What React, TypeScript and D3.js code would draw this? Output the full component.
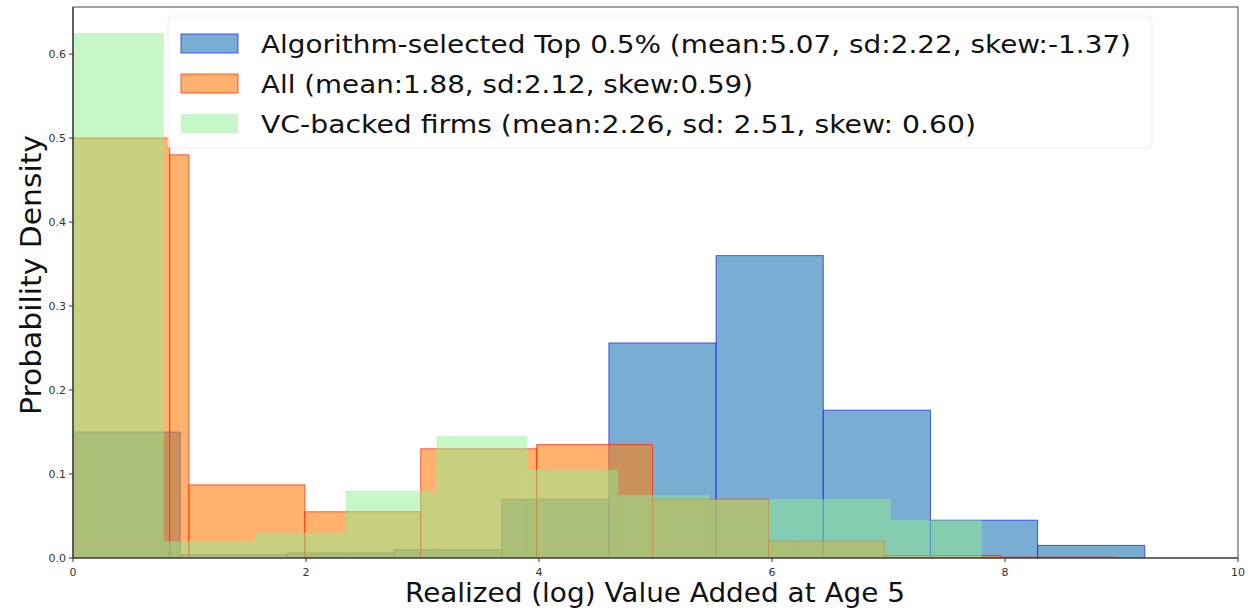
import React from 'react'
import * as d3 from 'd3'

// histogram bins (edges on the log value axis, density per bin)
const topEdges = [0, 0.92, 1.84, 2.76, 3.68, 4.6, 5.52, 6.44, 7.36, 8.28, 9.2]
const topDensity = [0.15, 0.004, 0.006, 0.01, 0.07, 0.256, 0.36, 0.176, 0.045, 0.015]

const allEdges = [0, 0.83, 0.995, 1.99, 2.985, 3.98, 4.975, 5.97, 6.965, 7.96, 8.955]
const allDensity = [0.5, 0.48, 0.087, 0.055, 0.13, 0.135, 0.07, 0.02, 0.003, 0.001]

const vcEdges = [0, 0.78, 1.56, 2.34, 3.12, 3.9, 4.68, 5.46, 6.24, 7.02, 7.8]
const vcDensity = [0.625, 0.02, 0.03, 0.08, 0.145, 0.105, 0.075, 0.07, 0.07, 0.045]

const xTicks = [0, 2, 4, 6, 8, 10]
const yTicks = [0, 0.1, 0.2, 0.3, 0.4, 0.5, 0.6]

const legendLabels = [
    'Algorithm-selected Top 0.5% (mean:5.07, sd:2.22, skew:-1.37)',
    'All (mean:1.88, sd:2.12, skew:0.59)',
    'VC-backed firms (mean:2.26, sd: 2.51, skew: 0.60)',
]
// the text in the picture is a bit wider than DejaVu renders it, so stretch to fit
const legendWidths = [870, 492, 715]

type Series = { edges: number[], density: number[], fill: string, stroke: string, alpha: number }

const series: Series[] = [
    { edges: topEdges, density: topDensity, fill: '#1f77b4', stroke: '#1a2cf0', alpha: 0.6 },
    { edges: allEdges, density: allDensity, fill: '#ff7f0e', stroke: '#ff2a00', alpha: 0.6 },
    { edges: vcEdges, density: vcDensity, fill: '#90ee90', stroke: 'none', alpha: 0.5 },
]

const W = 1251
const H = 615
const left = 73
const right = 1238
const top = 7
const bottom = 558
const font = 'DejaVu Sans, sans-serif'

export default function App() {
    const x = d3.scaleLinear().domain([0, 10]).range([left, right])
    const y = d3.scaleLinear().domain([0, 0.656]).range([bottom, top])
    const fmt = d3.format('.1f')

    return (
        <svg width={W} height={H} style={{ position: 'absolute', left: 0, top: 0, background: '#fff' }}
            fontFamily={font}>
            <defs>
                <clipPath id="plot">
                    <rect x={left} y={top} width={right - left} height={bottom - top} />
                </clipPath>
            </defs>

            <g clipPath="url(#plot)">
                {series.map((s, si) => (
                    <g key={si}>
                        {s.density.map((d, i) => {
                            const x0 = x(s.edges[i])
                            const x1 = x(s.edges[i + 1])
                            return (
                                <rect key={i} x={x0} y={y(d)} width={x1 - x0} height={y(0) - y(d)}
                                    fill={s.fill} fillOpacity={s.alpha}
                                    stroke={s.stroke} strokeOpacity={0.75} strokeWidth={1} />
                            )
                        })}
                    </g>
                ))}
            </g>

            {/* frame */}
            <rect x={left} y={top} width={right - left} height={bottom - top} fill="none" stroke="#666" strokeWidth={1.2} />
            <line x1={left} x2={left} y1={top} y2={bottom} stroke="#333" strokeWidth={1.2} />
            <line x1={left} x2={right} y1={bottom} y2={bottom} stroke="#333" strokeWidth={1.2} />

            {/* x axis */}
            {xTicks.map(t => (
                <g key={t} transform={`translate(${x(t)},${bottom})`}>
                    <line y2={4} stroke="#333" />
                    <text y={18} textAnchor="middle" fontSize={11} fill="#333">{t}</text>
                </g>
            ))}
            <text x={655} y={602} textAnchor="middle" fontSize={27} fill="#111"
                textLength={500} lengthAdjust="spacingAndGlyphs">
                Realized (log) Value Added at Age 5
            </text>

            {/* y axis */}
            {yTicks.map(t => (
                <g key={t} transform={`translate(${left},${y(t)})`}>
                    <line x2={-4} stroke="#333" />
                    <text x={-7} dy="0.35em" textAnchor="end" fontSize={11} fill="#333">{fmt(t)}</text>
                </g>
            ))}
            <text transform={`translate(41,275) rotate(-90)`} textAnchor="middle" fontSize={28} fill="#111"
                textLength={280} lengthAdjust="spacingAndGlyphs">
                Probability Density
            </text>

            {/* legend */}
            <rect x={168} y={16} width={984} height={132} rx={4} fill="#fff" fillOpacity={0.8} stroke="#eeeeee" />
            {legendLabels.map((label, i) => (
                <g key={i} transform={`translate(181,${34 + i * 40})`}>
                    <rect width={57} height={19} fill={series[i].fill} fillOpacity={series[i].alpha}
                        stroke={series[i].stroke} strokeOpacity={0.75} />
                    <text x={80} y={19} fontSize={25} fill="#111"
                        textLength={legendWidths[i]} lengthAdjust="spacingAndGlyphs">{label}</text>
                </g>
            ))}
        </svg>
    )
}
